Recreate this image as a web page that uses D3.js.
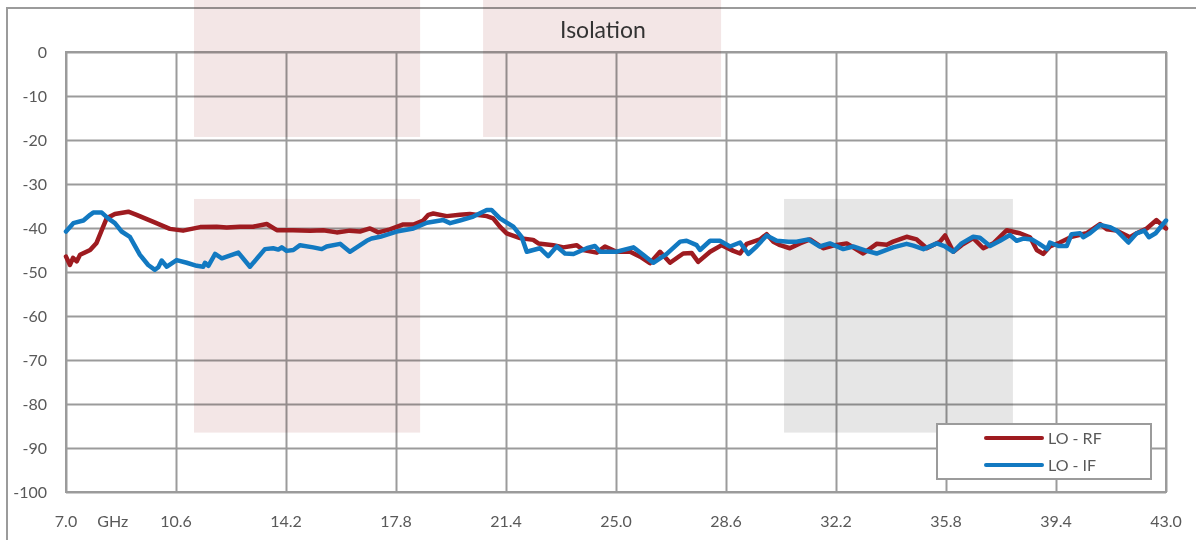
<!doctype html>
<html lang="en">
  <head>
    <meta charset="utf-8">
    <title>Isolation</title>
    <script src="https://d3js.org/d3.v7.min.js"></script>
    <style>
    body { margin: 0; background: #fff; }
    text { font-family: Lato, "Open Sans", sans-serif; fill: #595959; }
    .grid line, .grid path { stroke: #9b9b9b; stroke-width: 2; }
    </style>
  </head>

  <body>
    <svg width="1196" height="540"></svg>

    <script>
      // x tick labels (GHz) and y ticks (dB)
      var xTicks = [7.0, 10.6, 14.2, 17.8, 21.4, 25.0, 28.6, 32.2, 35.8, 39.4, 43.0];
      var yTicks = [0, -10, -20, -30, -40, -50, -60, -70, -80, -90, -100];

      // LO - RF
      var rfFreq = [7.00, 7.13, 7.23, 7.35, 7.46, 7.79, 8.00, 8.17, 8.33, 8.60, 9.04, 9.31, 9.86, 10.40, 10.83,
        11.39, 11.93, 12.26, 12.69, 13.12, 13.57, 13.90, 14.43, 14.99, 15.42, 15.86, 16.29, 16.62, 16.95, 17.22,
        17.60, 18.04, 18.37, 18.69, 18.86, 19.02, 19.46, 19.89, 20.22, 20.77, 20.98, 21.20, 21.42, 21.86, 22.29,
        22.46, 22.95, 23.28, 23.71, 23.93, 24.37, 24.64, 25.02, 25.46, 25.79, 26.11, 26.44, 26.77, 27.20, 27.48,
        27.69, 28.08, 28.46, 28.84, 29.06, 29.28, 29.71, 29.93, 30.15, 30.37, 30.69, 31.02, 31.35, 31.78, 32.17,
        32.55, 33.09, 33.53, 33.86, 34.07, 34.51, 34.84, 35.17, 35.60, 35.77, 36.04, 36.31, 36.69, 37.02, 37.35,
        37.79, 38.22, 38.55, 38.77, 38.98, 39.20, 39.53, 39.91, 40.40, 40.84, 41.06, 41.39, 41.82, 42.04, 42.37,
        42.69, 43.00];
      var rfVal = [-46.5, -48.4, -46.8, -47.6, -46.1, -45.0, -43.4, -40.5, -37.8, -36.8, -36.3, -37.0, -38.6, -40.2, -40.6,
        -39.8, -39.7, -39.9, -39.7, -39.7, -39.1, -40.5, -40.5, -40.6, -40.5, -41.0, -40.6, -40.8, -40.1, -41.0,
        -40.3, -39.2, -39.2, -38.3, -37.0, -36.7, -37.3, -37.0, -36.8, -37.3, -37.8, -39.7, -41.2, -42.3, -42.7,
        -43.5, -43.9, -44.4, -43.9, -45.0, -45.6, -44.2, -45.4, -45.4, -46.5, -48.0, -45.4, -47.9, -45.8, -45.7,
        -47.7, -45.4, -43.9, -45.2, -45.8, -43.6, -42.6, -41.4, -43.1, -43.9, -44.6, -43.5, -42.6, -44.6, -43.9,
        -43.5, -45.8, -43.6, -43.8, -43.1, -42.0, -42.6, -44.6, -43.1, -41.7, -45.4, -43.9, -42.3, -44.6, -43.5,
        -40.5, -41.2, -42.1, -45.0, -45.9, -44.2, -43.3, -42.0, -41.2, -39.1, -40.3, -40.6, -42.1, -41.2, -40.1,
        -38.2, -40.1];

      // LO - IF
      var ifFreq = [7.00, 7.24, 7.57, 7.79, 7.89, 8.17, 8.38, 8.60, 8.82, 9.09, 9.42, 9.69, 9.91, 10.02, 10.13,
        10.30, 10.62, 10.95, 11.28, 11.49, 11.55, 11.66, 11.88, 12.10, 12.64, 13.02, 13.51, 13.78, 13.95, 14.06,
        14.22, 14.44, 14.66, 15.09, 15.37, 15.53, 15.97, 16.29, 16.84, 17.00, 17.28, 17.82, 18.37, 18.81, 19.35,
        19.57, 19.89, 20.33, 20.77, 20.93, 21.20, 21.64, 21.91, 22.08, 22.51, 22.78, 23.06, 23.33, 23.61, 24.04,
        24.31, 24.48, 25.02, 25.57, 25.89, 26.22, 26.66, 27.10, 27.31, 27.64, 27.75, 28.08, 28.40, 28.73, 29.06,
        29.33, 29.60, 29.93, 30.26, 30.64, 30.91, 31.29, 31.67, 32.00, 32.44, 32.76, 33.20, 33.53, 34.07, 34.51,
        34.73, 35.06, 35.50, 35.77, 36.04, 36.31, 36.69, 36.91, 37.24, 37.57, 37.89, 38.11, 38.33, 38.61, 38.83,
        39.11, 39.20, 39.48, 39.75, 39.91, 40.19, 40.29, 40.51, 40.84, 41.16, 41.39, 41.77, 42.04, 42.29, 42.44,
        42.66, 43.00];
      var ifVal = [-40.8, -38.9, -38.3, -37.0, -36.5, -36.5, -37.8, -38.9, -40.8, -42.0, -46.1, -48.4, -49.5, -48.9, -47.4,
        -48.8, -47.3, -47.9, -48.6, -48.8, -47.9, -48.6, -45.9, -46.9, -45.6, -48.8, -44.8, -44.6, -44.9, -44.4,
        -45.2, -45.0, -43.9, -44.4, -44.8, -44.2, -43.6, -45.4, -42.9, -42.4, -42.0, -40.8, -40.1, -38.8, -38.2,
        -38.9, -38.3, -37.4, -35.9, -35.9, -37.8, -39.7, -42.0, -45.4, -44.6, -46.4, -44.2, -45.8, -45.9, -44.6,
        -44.1, -45.4, -45.4, -44.4, -46.1, -47.9, -45.9, -43.1, -42.9, -43.9, -45.0, -42.9, -42.9, -44.2, -43.3,
        -45.9, -44.2, -41.7, -42.9, -43.1, -43.1, -42.6, -44.2, -43.5, -44.8, -44.2, -45.2, -45.8, -44.4, -43.6,
        -44.0, -44.8, -43.5, -44.2, -45.4, -43.5, -42.0, -42.2, -44.1, -42.9, -41.6, -42.9, -42.4, -42.6, -43.5,
        -44.8, -43.3, -44.1, -44.1, -41.4, -41.2, -42.1, -41.2, -39.3, -39.8, -40.6, -43.3, -41.2, -40.6, -42.1,
        -41.2, -38.3];

      var seriesNames = ['LO - RF', 'LO - IF'];
      var seriesColors = ['#9e1b20', '#1279c1'];

      var svg = d3.select('svg');

      var x = d3.scaleLinear().domain([7, 43]).range([66, 1166]);
      var y = d3.scaleLinear().domain([-100, 0]).range([492, 52]);

      // outer chart border (runs off the right and bottom edges)
      svg.append('rect')
        .attr('x', 7).attr('y', 8)
        .attr('width', 1200).attr('height', 540)
        .attr('fill', 'none')
        .attr('stroke', '#9b9b9b')
        .attr('stroke-width', 2);

      // grid
      svg.append('g')
        .attr('class', 'grid')
        .attr('transform', 'translate(0,52)')
        .call(d3.axisBottom(x).tickValues(xTicks).tickSize(440).tickFormat(''))
        .call(function(g){ g.select('.domain').remove(); });
      svg.append('g')
        .attr('class', 'grid')
        .attr('transform', 'translate(66,0)')
        .call(d3.axisRight(y).tickValues(yTicks).tickSize(1100).tickFormat(''))
        .call(function(g){ g.select('.domain').remove(); });
      svg.append('rect')
        .attr('x', x(7)).attr('y', y(0))
        .attr('width', x(43) - x(7)).attr('height', y(-100) - y(0))
        .attr('fill', 'none')
        .attr('stroke', '#9b9b9b')
        .attr('stroke-width', 2);

      // shaded overlay boxes (in data units)
      var boxes = [
        {x0: 11.19, x1: 18.59, y0: 12, y1: -19.3, c: '#f3e6e6'},
        {x0: 11.19, x1: 18.59, y0: -33.4, y1: -86.5, c: '#f3e6e6'},
        {x0: 20.65, x1: 28.44, y0: 12, y1: -19.3, c: '#f3e6e6'},
        {x0: 30.50, x1: 37.99, y0: -33.4, y1: -86.5, c: '#e6e6e6'}
      ];
      svg.append('g').selectAll('rect')
        .data(boxes)
        .enter().append('rect')
          .attr('x', function(d){ return x(d.x0); })
          .attr('y', function(d){ return y(d.y0); })
          .attr('width', function(d){ return x(d.x1) - x(d.x0); })
          .attr('height', function(d){ return y(d.y1) - y(d.y0); })
          .attr('fill', function(d){ return d.c; })
          .style('mix-blend-mode', 'multiply');

      // tick labels
      svg.append('g').selectAll('text')
        .data(xTicks)
        .enter().append('text')
          .attr('x', x)
          .attr('y', 527)
          .attr('text-anchor', 'middle')
          .attr('font-size', 16)
          .text(function(d){ return d3.format('.1f')(d); });
      svg.append('text')
        .attr('x', x(8.53)).attr('y', 527)
        .attr('text-anchor', 'middle')
        .attr('font-size', 16)
        .text('GHz');
      svg.append('g').selectAll('text')
        .data(yTicks)
        .enter().append('text')
          .attr('x', 47)
          .attr('y', function(d){ return y(d) + 6; })
          .attr('text-anchor', 'end')
          .attr('font-size', 16)
          .text(function(d){ return d; });

      // title
      svg.append('text')
        .attr('x', 603).attr('y', 38)
        .attr('text-anchor', 'middle')
        .attr('font-size', 23)
        .style('fill', '#333')
        .text('Isolation');

      // series
      var line = d3.line()
        .x(function(d){ return x(d[0]); })
        .y(function(d){ return y(d[1]); });

      var series = [d3.zip(rfFreq, rfVal), d3.zip(ifFreq, ifVal)];
      svg.append('g').selectAll('path')
        .data(series)
        .enter().append('path')
          .attr('d', line)
          .attr('fill', 'none')
          .attr('stroke', function(d, i){ return seriesColors[i]; })
          .attr('stroke-width', 4.5)
          .attr('stroke-linejoin', 'round')
          .attr('stroke-linecap', 'round');

      // legend
      var legend = svg.append('g');
      legend.append('rect')
        .attr('x', 937).attr('y', 424)
        .attr('width', 214).attr('height', 55)
        .attr('fill', '#fff')
        .attr('stroke', '#9b9b9b')
        .attr('stroke-width', 2);
      var items = legend.selectAll('g.item')
        .data(seriesNames)
        .enter().append('g')
          .attr('class', 'item')
          .attr('transform', function(d, i){ return 'translate(0,' + (438 + i * 27) + ')'; });
      items.append('line')
        .attr('x1', 986).attr('x2', 1042)
        .attr('stroke', function(d, i){ return seriesColors[i]; })
        .attr('stroke-width', 4)
        .attr('stroke-linecap', 'round');
      items.append('text')
        .attr('x', 1048).attr('y', 6)
        .attr('font-size', 16)
        .text(function(d){ return d; });
    </script>
  </body>
</html>
